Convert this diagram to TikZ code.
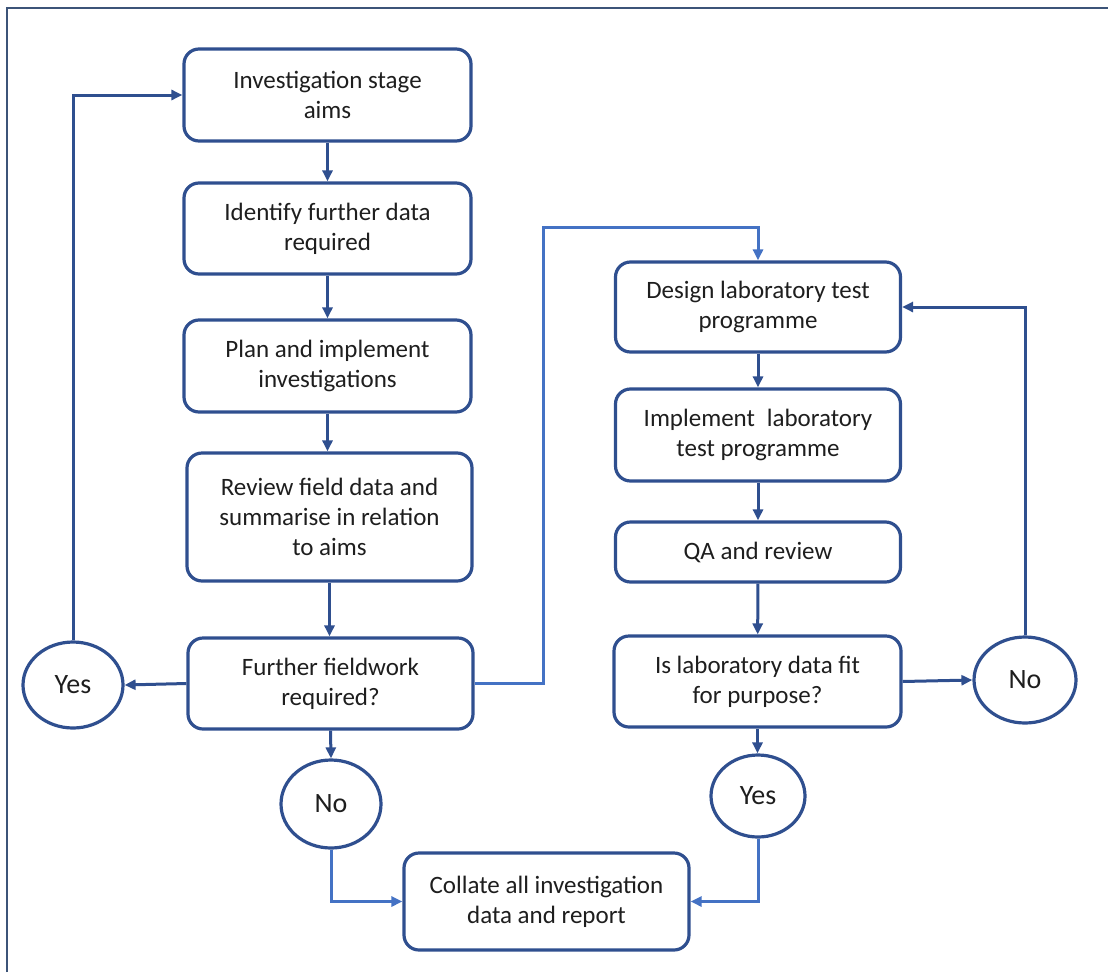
\documentclass[tikz,border=0pt]{standalone}
\usepackage{fontspec}
\setmainfont{Carlito}
\usetikzlibrary{shapes.geometric,arrows.meta}

\definecolor{boxblue}{HTML}{2F4F8F}
\definecolor{linkblue}{HTML}{4472C4}
\definecolor{framegray}{HTML}{3C5478}
\definecolor{inkgray}{HTML}{1E1E1E}

\tikzset{
  stepbox/.style={draw=boxblue, line width=3.2pt, rounded corners=15pt, fill=white,
    align=center, inner sep=0pt, text=inkgray,
    font=\fontsize{25}{30}\selectfont},
  answer/.style={ellipse, draw=boxblue, line width=3.2pt, fill=white, inner sep=0pt,
    text=inkgray, font=\fontsize{28}{30}\selectfont},
  flow/.style={draw=boxblue, line width=3pt,
    -{Triangle[length=11pt,width=10pt]}},
  flowlight/.style={draw=linkblue, line width=3pt,
    -{Triangle[length=11pt,width=10pt]}},
}

\begin{document}
\begin{tikzpicture}[x=1pt,y=-1pt]
\useasboundingbox (0,0) rectangle (1108,972);

% outer frame (left and top edges)
\draw[framegray, line width=1.6pt] (7,972) -- (7,8) -- (1108,8);

% field investigation column
\node[stepbox, minimum width=287pt, minimum height=92pt] (aims)    at (327.5,95)  {Investigation stage\\aims};
\node[stepbox, minimum width=287pt, minimum height=91pt] (ident)   at (327.5,228.5) {Identify further data\\required};
\node[stepbox, minimum width=287pt, minimum height=92pt] (plan)    at (327.5,366) {Plan and implement\\investigations};
\node[stepbox, minimum width=285pt, minimum height=128pt] (review) at (329.5,517) {Review field data and\\summarise in relation\\to aims};
\node[stepbox, minimum width=285pt, minimum height=91pt] (further) at (330.5,683.5) {Further fieldwork\\required?};

\node[answer, minimum width=100pt, minimum height=86pt] (yesL) at (73,685)  {Yes};
\node[answer, minimum width=100pt, minimum height=88pt] (noL)  at (331,804) {No};

% laboratory column
\node[stepbox, minimum width=285pt, minimum height=90pt] (design) at (758,307)  {Design laboratory test\\programme};
\node[stepbox, minimum width=285pt, minimum height=92pt] (impl)   at (758,435)  {Implement\hspace{0.25em} laboratory\\test programme};
\node[stepbox, minimum width=285pt, minimum height=60pt] (qa)     at (758,552)  {QA and review};
\node[stepbox, minimum width=287pt, minimum height=91pt] (fit)    at (757.5,681.5) {Is laboratory data fit\\for purpose?};

\node[answer, minimum width=102pt, minimum height=86pt] (noR)  at (1025,680) {No};
\node[answer, minimum width=94pt,  minimum height=82pt] (yesR) at (758,796)  {Yes};

% final report
\node[stepbox, minimum width=285pt, minimum height=97pt] (collate) at (546.5,901.5) {Collate all investigation\\data and report};

% junction above the laboratory column
\coordinate (jtop) at (543,227);

% field column links
\draw[flow] (aims) -- (ident);
\draw[flow] (ident) -- (plan);
\draw[flow] (plan.south) -- (plan.south |- review.north);
\draw[flow] (review.south) -- (review.south |- further.north);
\draw[flow] (further.west) -- (yesL.east);
\draw[flow] (yesL.north) |- (aims.west);
\draw[flow] (further.south) -- (noL.north);
\draw[flowlight] (noL.south) |- (collate.west);
\draw[flowlight] (further.east) -| (jtop) -| (design.north);

% laboratory column links
\draw[flow] (design) -- (impl);
\draw[flow] (impl) -- (qa);
\draw[flow] (qa) -- (fit);
\draw[flow] (fit.east) -- (noR.west);
\draw[flow] (noR.north) |- (design.east);
\draw[flow] (fit.south) -- (fit.south |- yesR.north);
\draw[flowlight] (yesR.south) |- (collate.east);
\end{tikzpicture}
\end{document}
